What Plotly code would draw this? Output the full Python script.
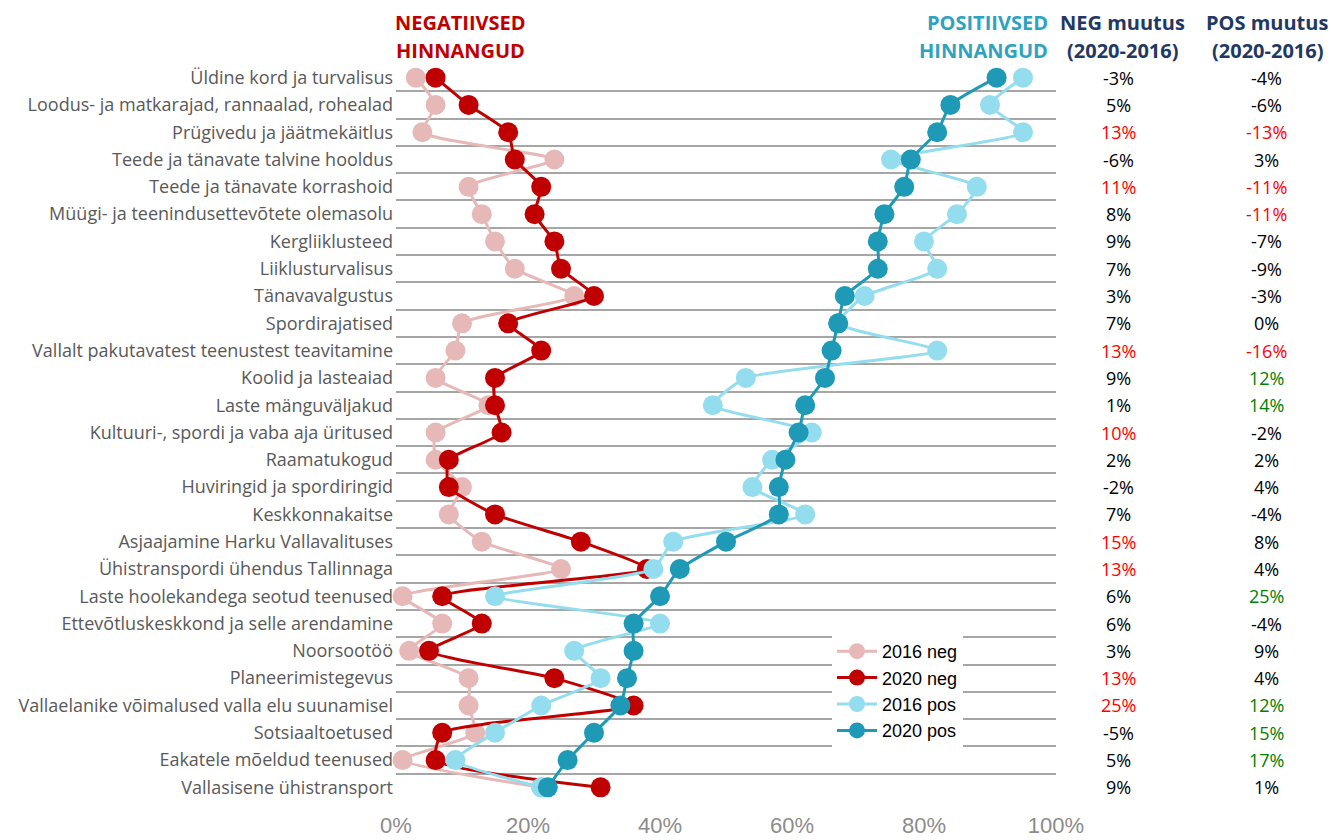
import plotly.graph_objects as go

categories = [
    "Üldine kord ja turvalisus",
    "Loodus- ja matkarajad, rannaalad, rohealad",
    "Prügivedu ja jäätmekäitlus",
    "Teede ja tänavate talvine hooldus",
    "Teede ja tänavate korrashoid",
    "Müügi- ja teenindusettevõtete olemasolu",
    "Kergliiklusteed",
    "Liiklusturvalisus",
    "Tänavavalgustus",
    "Spordirajatised",
    "Vallalt pakutavatest teenustest teavitamine",
    "Koolid ja lasteaiad",
    "Laste mänguväljakud",
    "Kultuuri-, spordi ja vaba aja üritused",
    "Raamatukogud",
    "Huviringid ja spordiringid",
    "Keskkonnakaitse",
    "Asjaajamine Harku Vallavalituses",
    "Ühistranspordi ühendus Tallinnaga",
    "Laste hoolekandega seotud teenused",
    "Ettevõtluskeskkond ja selle arendamine",
    "Noorsootöö",
    "Planeerimistegevus",
    "Vallaelanike võimalused valla elu suunamisel",
    "Sotsiaaltoetused",
    "Eakatele mõeldud teenused",
    "Vallasisene ühistransport",
]

neg_2016 = [3, 6, 4, 24, 11, 13, 15, 18, 27, 10, 9, 6, 14, 6, 6, 10, 8, 13, 25, 1, 7, 2, 11, 11, 12, 1, 22]
neg_2020 = [6, 11, 17, 18, 22, 21, 24, 25, 30, 17, 22, 15, 15, 16, 8, 8, 15, 28, 38, 7, 13, 5, 24, 36, 7, 6, 31]
pos_2016 = [95, 90, 95, 75, 88, 85, 80, 82, 71, 67, 82, 53, 48, 63, 57, 54, 62, 42, 39, 15, 40, 27, 31, 22, 15, 9, 22]
pos_2020 = [91, 84, 82, 78, 77, 74, 73, 73, 68, 67, 66, 65, 62, 61, 59, 58, 58, 50, 43, 40, 36, 36, 35, 34, 30, 26, 23]

neg_change = [-3, 5, 13, -6, 11, 8, 9, 7, 3, 7, 13, 9, 1, 10, 2, -2, 7, 15, 13, 6, 6, 3, 13, 25, -5, 5, 9]
pos_change = [-4, -6, -13, 3, -11, -11, -7, -9, -3, 0, -16, 12, 14, -2, 2, 4, -4, 8, 4, 25, -4, 9, 4, 12, 15, 17, 1]

x_ticks = [0, 20, 40, 60, 80, 100]
x_tick_labels = ["0%", "20%", "40%", "60%", "80%", "100%"]

# Layout geometry (pixels)
W, H = 1331, 840
PL, PR, PT, PB = 396, 1056, 64, 801
pw, ph = PR - PL, PB - PT


def px(p):
    return (p - PL) / pw


def py(p):
    return (PB - p) / ph


def neg_color(v):
    return "#FF0000" if v >= 10 else "#000000"


def pos_color(v):
    if v <= -10:
        return "#FF0000"
    if v >= 10:
        return "#008000"
    return "#000000"


series = [
    ("2016 neg", neg_2016, "#E6B9B8"),
    ("2020 neg", neg_2020, "#C00000"),
    ("2016 pos", pos_2016, "#93DDEE"),
    ("2020 pos", pos_2020, "#1E99B6"),
]

fig = go.Figure()
for name, vals, col in series:
    fig.add_trace(go.Scatter(
        x=vals, y=categories, name=name, mode="lines+markers",
        line=dict(color=col, width=3, shape="spline", smoothing=0.5),
        marker=dict(color=col, size=20),
        cliponaxis=False,
    ))

annotations = []

# change columns
for cat, nv, pv in zip(categories, neg_change, pos_change):
    annotations.append(dict(
        text=f"{nv}%", xref="paper", yref="y", x=px(1118), y=cat,
        xanchor="center", yanchor="middle", showarrow=False,
        font=dict(family="Open Sans", size=18, color=neg_color(nv)),
    ))
    annotations.append(dict(
        text=f"{pv}%", xref="paper", yref="y", x=px(1266), y=cat,
        xanchor="center", yanchor="middle", showarrow=False,
        font=dict(family="Open Sans", size=18, color=pos_color(pv)),
    ))


def add_hdr(text, xp, yp, color, xanchor="center"):
    annotations.append(dict(
        text=f"<b>{text}</b>", xref="paper", yref="paper", x=px(xp), y=py(yp),
        xanchor=xanchor, yanchor="middle", showarrow=False,
        font=dict(family="Open Sans", size=20, color=color),
    ))


add_hdr("NEGATIIVSED", 460, 22, "#C00000")
add_hdr("HINNANGUD", 460, 50, "#C00000")
add_hdr("POSITIIVSED", 1050, 22, "#2DA3C1", "right")
add_hdr("HINNANGUD", 1050, 50, "#2DA3C1", "right")
add_hdr("NEG muutus", 1122, 23, "#1F3864")
add_hdr("(2020-2016)", 1122, 50, "#1F3864")
add_hdr("POS muutus", 1267, 23, "#1F3864")
add_hdr("(2020-2016)", 1267, 50, "#1F3864")

fig.update_layout(
    width=W, height=H,
    margin=dict(l=PL, r=W - PR, t=PT, b=H - PB, pad=0, autoexpand=False),
    paper_bgcolor="white", plot_bgcolor="white",
    font=dict(family="Open Sans", color="#595959"),
    annotations=annotations,
    showlegend=True,
    legend=dict(
        x=px(832), y=py(633), xanchor="left", yanchor="top",
        bgcolor="white", font=dict(family="Liberation Sans", size=18, color="#000000"),
        tracegroupgap=0, itemwidth=40,
    ),
    xaxis=dict(
        range=[0, 100], tickvals=x_ticks, ticktext=x_tick_labels,
        showgrid=False, zeroline=False, showline=False, automargin=False,
        tickfont=dict(family="Liberation Sans", size=22, color="#8C8C8C"),
        ticklabelstandoff=9, fixedrange=True,
    ),
    yaxis=dict(
        type="category", categoryorder="array", categoryarray=categories,
        range=[len(categories) - 0.5, -0.5], autorange=False, tickson="boundaries",
        showgrid=True, gridcolor="#A6A6A6", gridwidth=2, automargin=False,
        zeroline=False, showline=False, ticks="",
        tickfont=dict(family="Open Sans", size=18, color="#595959"),
        ticklabelstandoff=2, fixedrange=True,
    ),
)

fig.write_html(
    "out.html",
    config={"displayModeBar": False},
    post_script="document.body.style.margin='0';document.body.style.overflow='hidden';",
)
